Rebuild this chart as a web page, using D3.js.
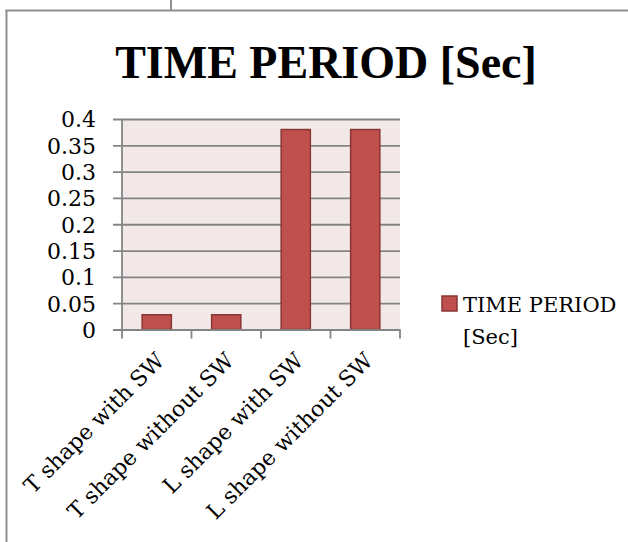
<!DOCTYPE html>
<html>
<head>
<meta charset="utf-8">
<script src="https://cdn.jsdelivr.net/npm/d3@7"></script>
<style>
  html, body { margin: 0; padding: 0; background: #ffffff; }
  svg { display: block; }
</style>
</head>
<body>
<script>
// ---- data ----
const categories = ["T shape with SW", "T shape without SW", "L shape with SW", "L shape without SW"];
const values = [0.028, 0.028, 0.38, 0.38];
const yTicks = [0, 0.05, 0.1, 0.15, 0.2, 0.25, 0.3, 0.35, 0.4];
const yTickLabels = ["0", "0.05", "0.1", "0.15", "0.2", "0.25", "0.3", "0.35", "0.4"];
const titleText = "TIME PERIOD [Sec]";
const legendLines = ["TIME PERIOD", "[Sec]"];

// ---- layout ----
const W = 628, H = 542;
const plot = { left: 122, right: 400, top: 119, bottom: 329.5 };
const barColor = "#C0504D", barStroke = "#8A3634";
const gridColor = "#848484";
const serif = "'DejaVu Serif', serif";

const svg = d3.select("body").append("svg").attr("width", W).attr("height", H);

// frame lines
const frame = svg.append("g").attr("stroke", "#8f8f8f").attr("stroke-width", 2).attr("fill", "none");
frame.append("line").attr("x1", 6.5).attr("x2", 6.5).attr("y1", 10).attr("y2", H);
frame.append("line").attr("x1", 5.5).attr("x2", W).attr("y1", 10.5).attr("y2", 10.5);
frame.append("line").attr("x1", 171).attr("x2", 171).attr("y1", 0).attr("y2", 10);

// scales
const x = d3.scaleBand().domain(categories).range([plot.left, plot.right]).padding(0);
const y = d3.scaleLinear().domain([0, 0.4]).range([plot.bottom, plot.top]);

// plot background
svg.append("rect")
  .attr("x", plot.left).attr("y", plot.top)
  .attr("width", plot.right - plot.left).attr("height", plot.bottom - plot.top)
  .attr("fill", "#F2E8E8");

// gridlines + y axis
const yAxis = d3.axisLeft(y).tickValues(yTicks)
  .tickFormat((d, i) => yTickLabels[i])
  .tickSize(-(plot.right - plot.left)).tickPadding(0);
const gy = svg.append("g").attr("transform", `translate(${plot.left},0)`).call(yAxis);
gy.select(".domain").remove();
gy.selectAll(".tick line").attr("stroke", gridColor).attr("stroke-width", 1.8).attr("x2", plot.right - plot.left).attr("x1", -9);
gy.selectAll(".tick text")
  .attr("x", -26).attr("dy", "0.36em")
  .attr("font-family", serif).attr("font-size", 22).attr("fill", "#000");
svg.append("line").attr("x1", plot.left).attr("x2", plot.left)
  .attr("y1", plot.top).attr("y2", plot.bottom).attr("stroke", gridColor).attr("stroke-width", 1.8);

// bars
const barW = x.bandwidth() / 2.38;
svg.append("g").selectAll("rect").data(values).join("rect")
  .attr("x", (d, i) => x(categories[i]) + (x.bandwidth() - barW) / 2)
  .attr("y", d => y(d))
  .attr("width", barW)
  .attr("height", d => y(0) - y(d))
  .attr("fill", barColor).attr("stroke", barStroke).attr("stroke-width", 1.5);

// x axis
const xAxis = d3.axisBottom(x).tickSize(0).tickFormat("");
const gx = svg.append("g").attr("transform", `translate(0,${plot.bottom})`).call(xAxis);
gx.select(".domain").attr("stroke", gridColor).attr("stroke-width", 1.8);
// boundary tick marks
const boundaries = categories.map(c => x(c)).concat([x(categories[categories.length - 1]) + x.bandwidth()]);
gx.selectAll(".btick").data(boundaries).join("line")
  .attr("x1", d => d).attr("x2", d => d).attr("y1", 0).attr("y2", 9)
  .attr("stroke", gridColor).attr("stroke-width", 1.8);

// category labels
svg.append("g").selectAll("text").data(categories).join("text")
  .attr("transform", d => `translate(${x(d) + x.bandwidth() / 2 + 9},${362}) rotate(-45)`)
  .attr("text-anchor", "end")
  .attr("font-family", serif).attr("font-size", 22).attr("fill", "#000")
  .text(d => d);

// title
svg.append("text")
  .attr("x", 326).attr("y", 78)
  .attr("text-anchor", "middle")
  .attr("font-family", "'Liberation Serif', serif").attr("font-weight", "bold")
  .attr("font-size", 46).attr("fill", "#000")
  .text(titleText);

// legend
const lg = svg.append("g");
lg.append("rect").attr("x", 442).attr("y", 296).attr("width", 15).attr("height", 15)
  .attr("fill", barColor).attr("stroke", barStroke).attr("stroke-width", 1.5);
lg.selectAll("text").data(legendLines).join("text")
  .attr("x", 463).attr("y", (d, i) => 312 + i * 31.5)
  .attr("font-family", serif).attr("font-size", 21).attr("fill", "#000")
  .text(d => d);
</script>
</body>
</html>
